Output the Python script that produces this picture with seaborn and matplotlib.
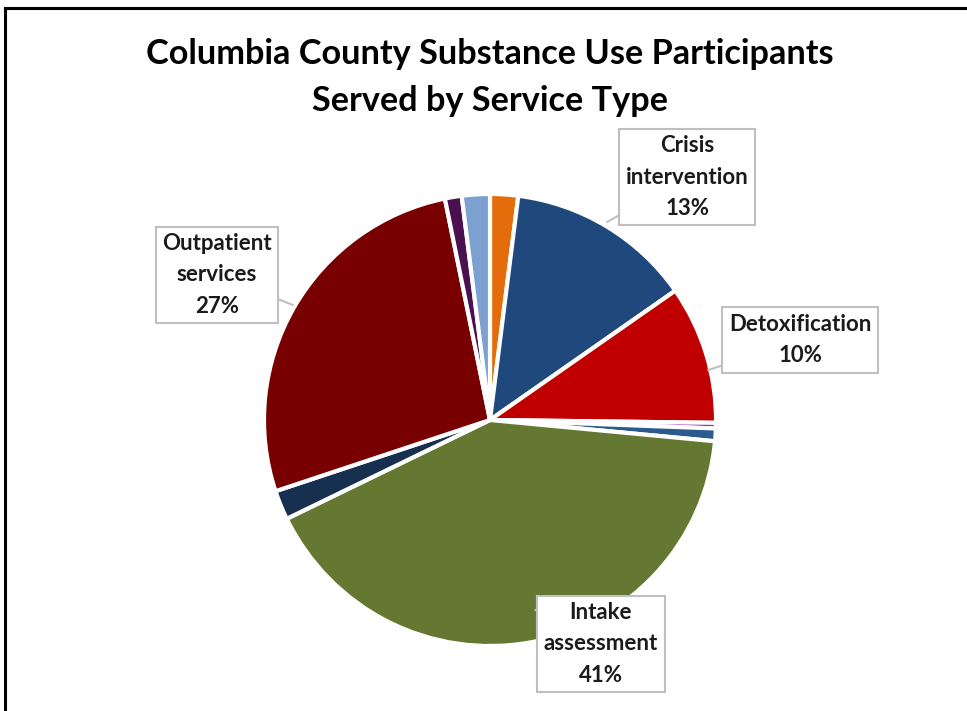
import matplotlib
matplotlib.use("Agg")
import matplotlib.pyplot as plt
import seaborn as sns
from matplotlib.patches import Rectangle

sns.set_theme(style="white")
plt.rcParams['font.family'] = ['Lato', 'DejaVu Sans']

# Data (clockwise from 12 o'clock)
services = ["Other A", "Crisis intervention", "Detoxification", "Other B", "Other C",
            "Intake assessment", "Other D", "Outpatient services", "Other E", "Other F"]
shares = [2.0, 13.3, 9.9, 0.4, 0.9, 41.3, 2.1, 26.9, 1.2, 2.0]
colors = ["#E46C0A", "#1F497D", "#C00000", "#9B30A0", "#2C5A8C",
          "#647832", "#17304F", "#780000", "#4A1050", "#7CA1D0"]
label_text = {"Crisis intervention": "Crisis\nintervention\n13%",
              "Detoxification": "Detoxification\n10%",
              "Outpatient services": "Outpatient\nservices\n27%",
              "Intake assessment": "Intake\nassessment\n41%"}
# box centres and pointer tips (axes data units, pie radius = 1)
label_box = {"Crisis intervention": (0.872, 1.075),
             "Detoxification": (1.372, 0.354),
             "Outpatient services": (-1.208, 0.642),
             "Intake assessment": (0.491, -0.991)}
label_tip = {"Crisis intervention": (0.518, 0.876),
             "Detoxification": (0.965, 0.221),
             "Outpatient services": (-0.872, 0.509),
             "Intake assessment": (0.20, -0.84)}

fig = plt.figure(figsize=(9.67, 7.11), dpi=100)
ax = fig.add_axes([264/967, 1-646/711, 452/967, 452/711])

wedges, _ = ax.pie(shares, colors=colors, startangle=90, counterclock=False,
                   radius=1.0, wedgeprops=dict(edgecolor="white", linewidth=3))
ax.set_xlim(-1, 1)
ax.set_ylim(-1, 1)
ax.set_aspect("equal")
ax.axis("off")

for name in services:
    if name in label_text:
        ax.annotate(label_text[name], xy=label_tip[name], xytext=label_box[name],
                    ha="center", va="center", fontsize=16, fontweight="bold",
                    color="#1a1a1a", linespacing=1.6, annotation_clip=False,
                    bbox=dict(boxstyle="square,pad=0.3", fc="white", ec="#BFBFBF", lw=1.5),
                    arrowprops=dict(arrowstyle="-", color="#BFBFBF", lw=1.5,
                                    shrinkA=0, shrinkB=0))

fig.text(490/967, 1-77.5/711, "Columbia County Substance Use Participants\nServed by Service Type",
         ha="center", va="center", fontsize=24.7, fontweight="bold", color="black",
         linespacing=1.6)

fig.patches.append(Rectangle((5/967, -0.05), 1.0, 1 - 8/711 + 0.05, transform=fig.transFigure,
                             fill=False, ec="black", lw=2.2))

fig.savefig("out.png", dpi=100, facecolor="white")
